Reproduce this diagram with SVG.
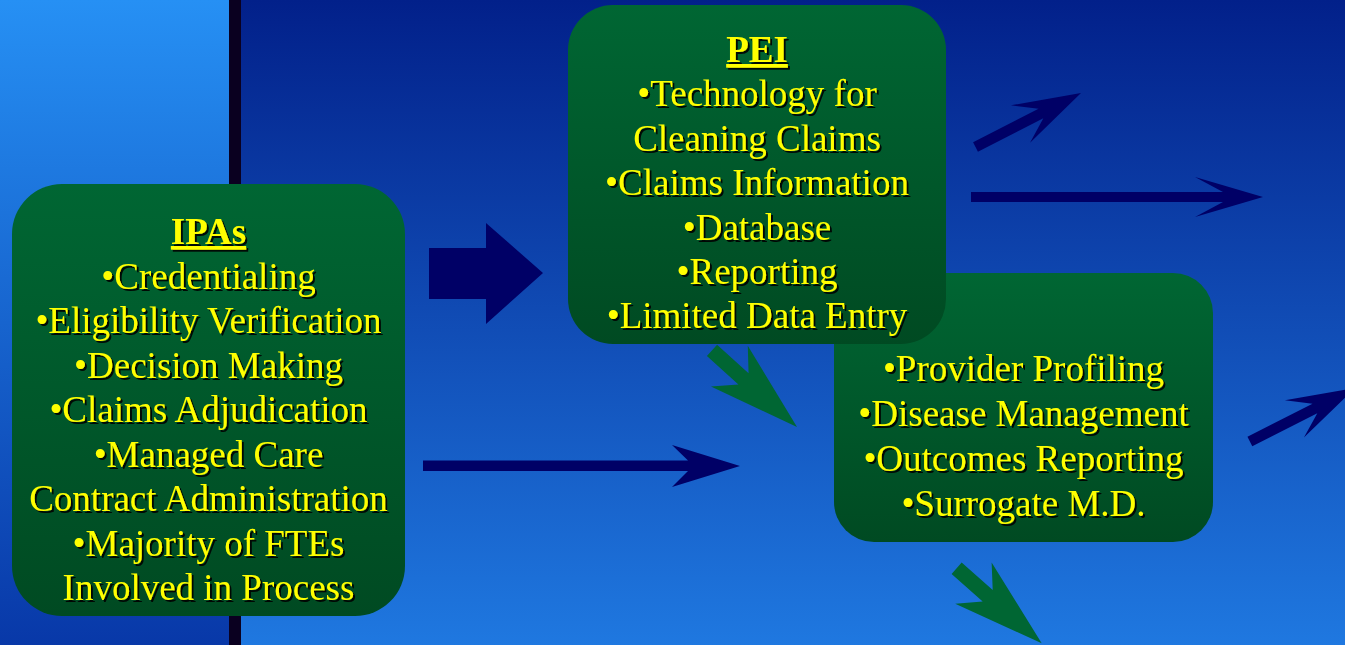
<svg xmlns="http://www.w3.org/2000/svg" width="1345" height="645" viewBox="0 0 1345 645">
  <defs>
    <linearGradient id="bgLeft" x1="0" y1="0" x2="0" y2="1">
      <stop offset="0" stop-color="#2690F4"/>
      <stop offset="1" stop-color="#0838A8"/>
    </linearGradient>
    <linearGradient id="bgRight" x1="0" y1="0" x2="0" y2="1">
      <stop offset="0" stop-color="#02208A"/>
      <stop offset="1" stop-color="#1F78E0"/>
    </linearGradient>
    <linearGradient id="boxGrad" x1="0" y1="0" x2="0" y2="1">
      <stop offset="0" stop-color="#006633"/>
      <stop offset="1" stop-color="#004A22"/>
    </linearGradient>
    <filter id="shadow" x="-10%" y="-20%" width="120%" height="140%">
      <feDropShadow dx="2" dy="2" stdDeviation="0.4" flood-color="#000000" flood-opacity="0.9"/>
    </filter>
  </defs>
  <style>
    .box { fill: url(#boxGrad); }
    .txt { font-family: "Liberation Serif", "Times New Roman", serif; font-size: 37px; fill: #FFFF00; text-anchor: middle; filter: url(#shadow); }
    .title { font-weight: bold; text-decoration: underline; }
    .navy { fill: #000066; }
    .green { fill: #006633; }
  </style>

  <!-- background -->
  <rect x="0" y="0" width="229" height="645" fill="url(#bgLeft)"/>
  <rect x="241" y="0" width="1104" height="645" fill="url(#bgRight)"/>
  <rect x="229" y="0" width="12" height="645" fill="#0A0020"/>

  <g id="connectors">
    <!-- block arrow IPAs -> PEI -->
    <polygon class="navy" points="429,248 486,248 486,223 543,273 486,324 486,299 429,299"/>
    <!-- long arrow IPAs -> third box -->
    <polygon class="navy" points="423,460.5 688,460.5 672,445 740,466 672,487 688,471 423,471"/>
    <!-- PEI outgoing horizontal -->
    <polygon class="navy" points="971,192 1223,192 1195,177 1263,197 1195,217 1223,202 971,202"/>
    <!-- PEI outgoing diagonal up -->
    <polygon class="navy" transform="translate(1081,93) rotate(-27.1)" points="-118.5,-5.3 -45,-5.3 -68,-21 0,0 -68,21 -45,5.3 -118.5,5.3"/>
    <!-- third box outgoing diagonal up (clipped at edge) -->
    <polygon class="navy" transform="translate(1355,388) rotate(-27)" points="-118,-5.3 -45,-5.3 -68,-21 0,0 -68,21 -45,5.3 -118,5.3"/>
    <!-- green arrow PEI -> third box -->
    <polygon class="green" transform="translate(797,427) rotate(42)" points="-114.4,-7.6 -72,-7.6 -91,-27.5 0,0 -91,27.5 -72,7.6 -114.4,7.6"/>
    <!-- green arrow out of third box -->
    <polygon class="green" transform="translate(1041.7,643.3) rotate(41.4)" points="-113.4,-7.6 -72,-7.6 -91,-27.5 0,0 -91,27.5 -72,7.6 -113.4,7.6"/>
  </g>

  <g id="node-ipas">
    <rect class="box" x="12" y="184" width="393" height="432" rx="50" ry="50"/>
    <text class="txt title" x="208.5" y="244">IPAs</text>
    <text class="txt" x="208.5" y="288.5">•Credentialing</text>
    <text class="txt" x="208.5" y="333">•Eligibility Verification</text>
    <text class="txt" x="208.5" y="377.5">•Decision Making</text>
    <text class="txt" x="208.5" y="422">•Claims Adjudication</text>
    <text class="txt" x="208.5" y="466.5">•Managed Care</text>
    <text class="txt" x="208.5" y="511">Contract Administration</text>
    <text class="txt" x="208.5" y="555.5">•Majority of FTEs</text>
    <text class="txt" x="208.5" y="600">Involved in Process</text>
  </g>

  <g id="node-analytics">
    <rect class="box" x="834" y="273" width="379" height="269" rx="40" ry="40"/>
    <text class="txt" x="1023.5" y="381">•Provider Profiling</text>
    <text class="txt" x="1023.5" y="426">•Disease Management</text>
    <text class="txt" x="1023.5" y="471">•Outcomes Reporting</text>
    <text class="txt" x="1023.5" y="516">•Surrogate M.D.</text>
  </g>

  <g id="node-pei">
    <rect class="box" x="568" y="5" width="378" height="339" rx="45" ry="45"/>
    <text class="txt title" x="757" y="62">PEI</text>
    <text class="txt" x="757" y="106">•Technology for</text>
    <text class="txt" x="757" y="151">Cleaning Claims</text>
    <text class="txt" x="757" y="195">•Claims Information</text>
    <text class="txt" x="757" y="240">•Database</text>
    <text class="txt" x="757" y="284">•Reporting</text>
    <text class="txt" x="757" y="328">•Limited Data Entry</text>
  </g>
</svg>
